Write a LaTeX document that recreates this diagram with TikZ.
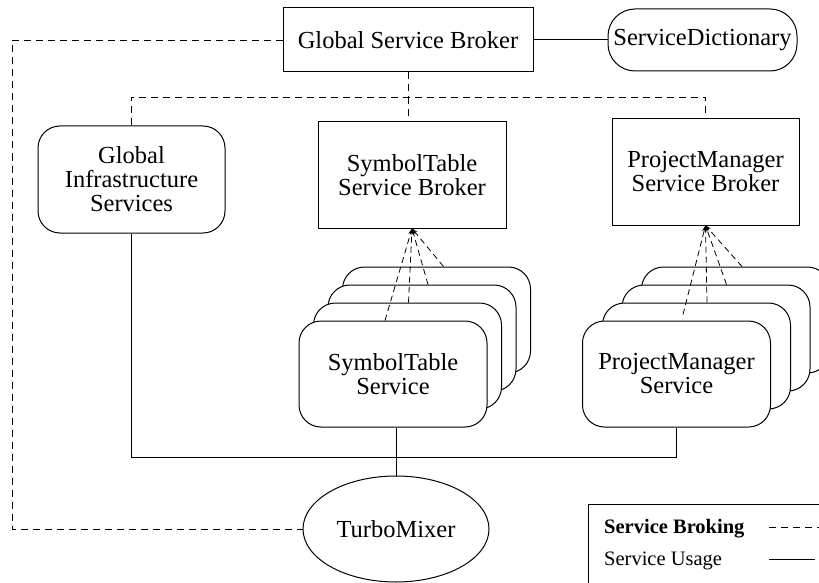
\documentclass[tikz,border=0pt]{standalone}
\usepackage{fontspec}
\setmainfont{Liberation Serif}
\usetikzlibrary{shapes.geometric,arrows.meta}
\begin{document}
\begin{tikzpicture}[x=1pt,y=-1pt,
  base/.style={font=\fontsize{24.5}{24}\selectfont, align=center, line width=1pt, inner sep=2pt},
  sqbox/.style={base, draw, rectangle},
  rbox/.style={base, draw, rectangle, rounded corners=22pt},
  card/.style={base, draw, rectangle, rounded corners=22pt, fill=white, minimum width=188, minimum height=106},
  oval/.style={base, draw, ellipse, inner sep=0pt},
  brok/.style={line width=0.9pt, dash pattern=on 7pt off 5pt},
  usage/.style={line width=1pt},
  brokarrow/.style={line width=0.8pt, dash pattern=on 6pt off 4pt, -{Stealth[length=6pt,width=4pt]}},
  legtext/.style={font=\fontsize{20.5}{22}\selectfont, inner sep=0pt, anchor=base west}
]
\useasboundingbox (0,0) rectangle (819,583);
\clip (0,0) rectangle (819,583);

% top level
\node[sqbox, minimum width=250, minimum height=64] (gsb) at (408,40) {Global Service Broker};
\node[rbox, rounded corners=27pt, minimum width=189, minimum height=62] (sd) at (702.5,40) {ServiceDictionary};

% second level
\node[rbox, minimum width=187, minimum height=107] (gis) at (131.5,179.5) {Global\\Infrastructure\\Services};
\node[sqbox, minimum width=188, minimum height=106] (stb) at (412,175) {SymbolTable\\Service Broker};
\node[sqbox, minimum width=187, minimum height=106] (pmb) at (705.5,172) {ProjectManager\\Service Broker};

% SymbolTable service stack
\node[card] (st4) at (393+43.5,374-54) {};
\node[card] (st3) at (393+29,374-36) {};
\node[card] (st2) at (393+14.5,374-18) {};
\node[card] (st1) at (393,374) {SymbolTable\\Service};

% ProjectManager service stack
\node[card] (pm4) at (676.5+59,374-54) {};
\node[card] (pm3) at (676.5+39.5,374-36) {};
\node[card] (pm2) at (676.5+20,374-18) {};
\node[card] (pm1) at (676.5,374) {ProjectManager\\Service};

% TurboMixer
\node[oval, minimum width=186, minimum height=106] (tm) at (396,529) {TurboMixer};

% helper coordinates
\coordinate (bus) at (0,97);
\coordinate (ubus) at (0,457);
\coordinate (lcorner) at (12,529);

% service broking (dashed)
\draw[brok] (gsb.west) -| (lcorner) -- (tm.west);
\draw[brok] (gsb.south) -- (gsb.south |- bus);
\draw[brok] (gis.north) -- (gis.north |- bus) -| (pmb.north);
\draw[brok] (gsb.south |- bus) -- (gsb.south |- stb.north);

% service usage (solid)
\draw[usage] (gsb.east) -- (sd.west);
\draw[usage] (gis.south) -- (gis.south |- ubus) -| (pm1.south);
\draw[usage] (tm.north) -- (tm.north |- st1.south);

% registration arrows
\draw[brokarrow] ([xshift=-8pt]st1.north) -- (stb.south);
\draw[brokarrow] ([xshift=1pt]st2.north) -- (stb.south);
\draw[brokarrow] ([xshift=6pt]st3.north) -- (stb.south);
\draw[brokarrow] ([xshift=7pt]st4.north) -- (stb.south);
\draw[brokarrow] ([xshift=6.5pt,yshift=6pt]pm1.north) -- (pmb.south);
\draw[brokarrow] ([xshift=10.5pt]pm2.north) -- (pmb.south);
\draw[brokarrow] ([xshift=10.5pt]pm3.north) -- (pmb.south);
\draw[brokarrow] ([xshift=6.5pt]pm4.north) -- (pmb.south);

% legend
\node[draw, line width=1pt, minimum width=260, minimum height=100, anchor=north west] (legend) at (588,504) {};
\node[legtext, font=\fontsize{20.5}{22}\selectfont\bfseries] (lb) at (604,533) {Service Broking};
\node[legtext] (lu) at (604,565) {Service Usage};
\coordinate (lbs) at (769,527);
\coordinate (lbe) at (822,527);
\coordinate (lus) at (769,559);
\coordinate (lue) at (815,559);
\draw[brok] (lbs) -- (lbe);
\draw[usage] (lus) -- (lue);
\end{tikzpicture}
\end{document}
